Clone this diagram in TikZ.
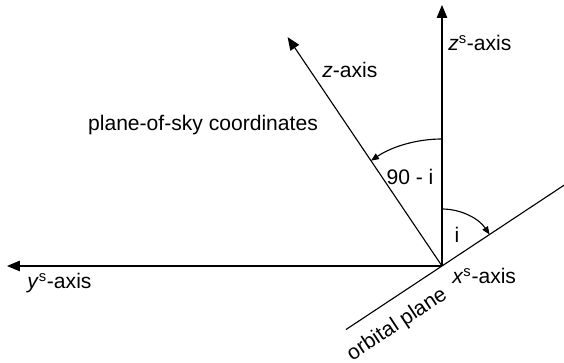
\documentclass[tikz,border=0pt]{standalone}
\usepackage{fontspec}
\setmainfont{Liberation Sans}
\usetikzlibrary{arrows.meta,positioning}

\begin{document}
\begin{tikzpicture}[
    font=\fontsize{15}{18}\selectfont,
    axis/.style={-{Triangle[length=0.32cm, width=0.26cm]}, line width=0.8pt},
    anglearc/.style={-{Triangle[length=0.2cm, width=0.16cm]}, line width=0.8pt},
    lbl/.style={inner sep=0pt}
]
\useasboundingbox (-11.05,-2.425) rectangle (3.05,6.65);
\coordinate (O) at (0,0);
\coordinate (zs) at (0,6.525);
\coordinate (ys) at (-10.875,0);
\coordinate (z) at (124:6.9);
\coordinate (orbA) at (213.5:2.88);
\coordinate (orbB) at (33.5:3.7);
\draw[axis] (O) -- (zs);
\draw[axis] (O) -- (ys);
\draw[axis] (O) -- (z);
\draw[line width=0.8pt] (orbA) -- (orbB);
\draw[anglearc] (90:3.175) arc[start angle=90, end angle=124, radius=3.175];
\draw[anglearc] (90:1.425) arc[start angle=90, end angle=33.5, radius=1.425];
\node[lbl, anchor=west] (zslbl) at (0.15,5.575) {\textit{z}\textsuperscript{s}-axis};
\node[lbl, anchor=west] (zlbl) at (-3.0,4.9) {\textit{z}-axis};
\node[lbl] (sky) at (-5.975,3.525) {plane-of-sky coordinates};
\node[lbl] (compl) at (-0.8,2.225) {90 - i};
\node[lbl] (incl) at (0.375,0.775) {i};
\node[lbl, anchor=west] (yslbl) at (-10.375,-0.425) {\textit{y}\textsuperscript{s}-axis};
\node[lbl, anchor=west] (xslbl) at (0.25,-0.25) {\textit{x}\textsuperscript{s}-axis};
\node[lbl, rotate=33.5] (orb) at (-1.12,-1.47) {orbital plane};
\end{tikzpicture}
\end{document}
